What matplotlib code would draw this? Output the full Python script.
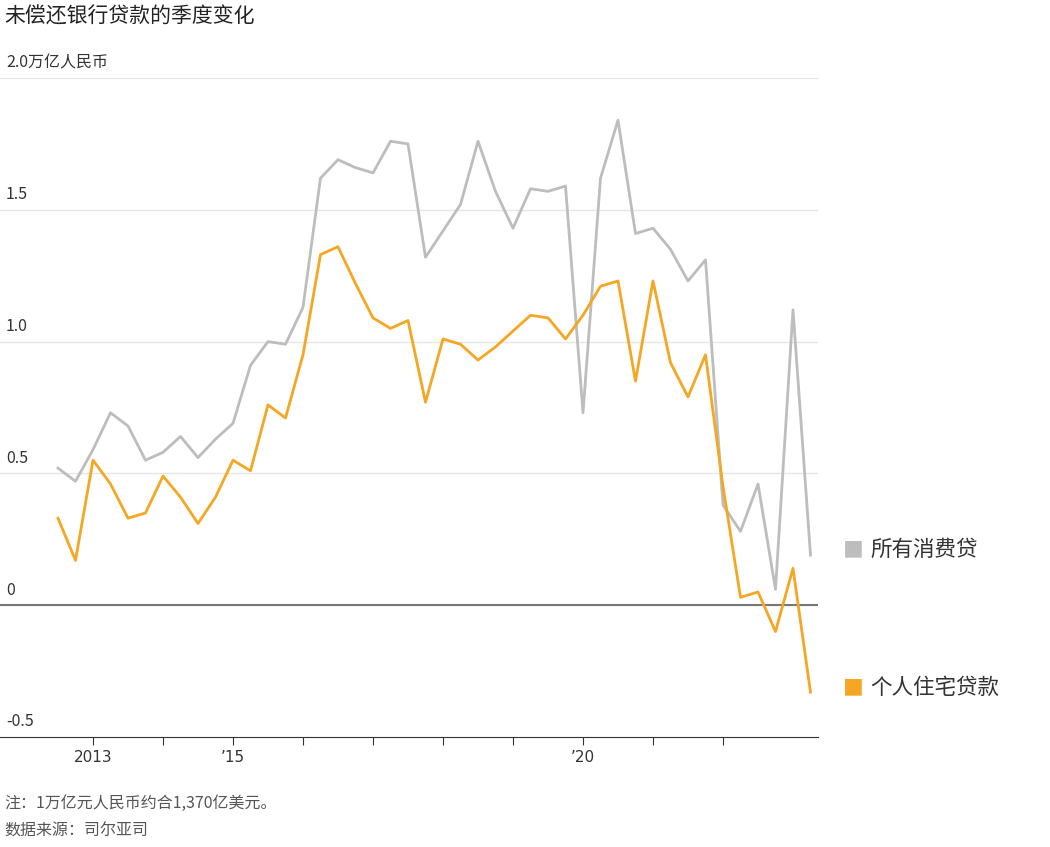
import matplotlib
matplotlib.use("Agg")
import matplotlib.pyplot as plt
import numpy as np

plt.rcParams['font.family'] = ['Noto Sans CJK SC', 'DejaVu Sans']

start_year = 2012.5
consumer = [0.52,0.47,0.59,0.73,0.68,0.55,0.58,0.64,0.56,0.63,0.69,0.91,1.00,0.99,1.13,
            1.62,1.69,1.66,1.64,1.76,1.75,1.32,1.42,1.52,1.76,1.57,1.43,1.58,1.57,1.59,
            0.73,1.62,1.84,1.41,1.43,1.35,1.23,1.31,0.38,0.28,0.46,0.06,1.12,0.19]
housing = [0.33,0.17,0.55,0.46,0.33,0.35,0.49,0.41,0.31,0.41,0.55,0.51,0.76,0.71,0.95,
           1.33,1.36,1.22,1.09,1.05,1.08,0.77,1.01,0.99,0.93,0.98,1.04,1.10,1.09,1.01,
           1.10,1.21,1.23,0.85,1.23,0.92,0.79,0.95,0.45,0.03,0.05,-0.10,0.14,-0.33]
ytick_vals = [-0.5, 0, 0.5, 1.0, 1.5, 2.0]
ytick_labels = ['-0.5', '0', '0.5', '1.0', '1.5', '2.0万亿人民币']
xtick_years = list(range(2013, 2023))
xtick_labels = {2013: '2013', 2015: '’15', 2020: '’20'}

t = start_year + 0.25 * np.arange(len(consumer))
W, H = 1050, 847
fig = plt.figure(figsize=(W/100, H/100), dpi=100)
ax = fig.add_axes([0, 1-737/H, 818/W, (737-78)/H])
ax.set_xlim(2013 - 93/70, 2013 + 725/70)
ax.set_ylim(-0.5, 2.0)
for v in ytick_vals[1:]:
    ax.axhline(v, color='#e6e6e6', lw=1, zorder=0)
ax.axhline(0, color='#777777', lw=1.5, zorder=1)
ax.plot(t, consumer, color='#bdbdbd', lw=2, zorder=2)
ax.plot(t, housing, color='#f5a623', lw=2, zorder=3)
for s in ['top', 'right', 'left']:
    ax.spines[s].set_visible(False)
ax.spines['bottom'].set_color('#333333')
ax.set_yticks([])
ax.set_xticks(xtick_years)
ax.set_xticklabels([xtick_labels.get(y, '') for y in xtick_years], fontsize=11, color='#333333',
                   family=['DejaVu Sans'])
ax.tick_params(axis='x', length=6, color='#333333')
for v, lab in zip(ytick_vals, ytick_labels):
    ax.text(2013 - 93/70 + 6/70, v + 0.025, lab, fontsize=11.5, color='#333333', va='bottom', ha='left')

fig.text(0.004, 1-17/H, '未偿还银行贷款的季度变化', fontsize=15, color='#222222', va='center')
fig.text(843/W, 1-550/H, '■', fontsize=15, color='#bdbdbd', va='center')
fig.text(870/W, 1-550/H, '所有消费贷', fontsize=15.5, color='#333333', va='center')
fig.text(843/W, 1-688/H, '■', fontsize=15, color='#f5a623', va='center')
fig.text(870/W, 1-688/H, '个人住宅贷款', fontsize=15.5, color='#333333', va='center')
fig.text(0.004, 1-803/H, '注：1万亿元人民币约合1,370亿美元。', fontsize=11.5, color='#555555', va='center')
fig.text(0.004, 1-831/H, '数据来源：司尔亚司', fontsize=11.5, color='#555555', va='center')
fig.savefig('out.png', dpi=100, facecolor='white')
